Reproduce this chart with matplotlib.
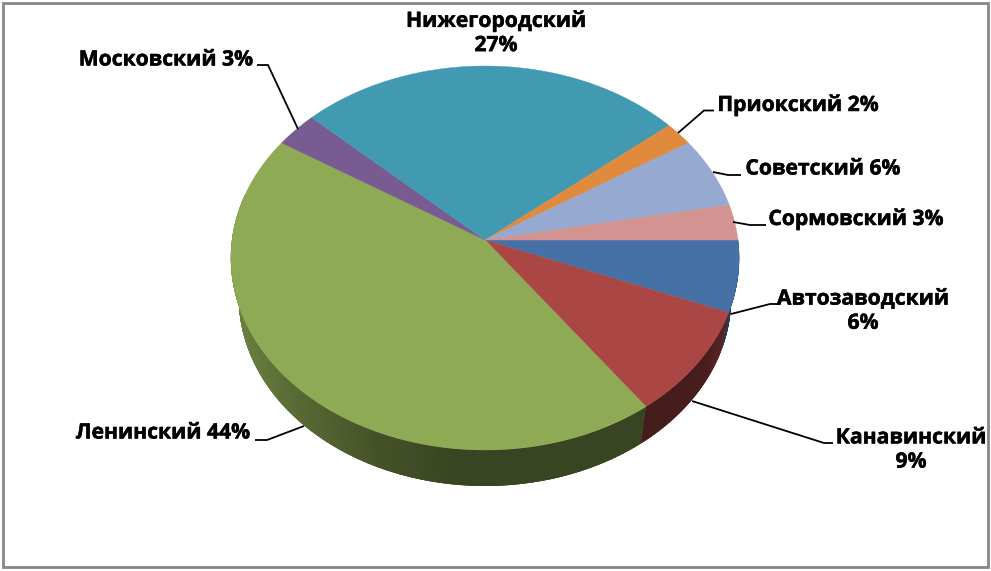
import numpy as np
import matplotlib
matplotlib.use("Agg")
import matplotlib.pyplot as plt
import matplotlib.patheffects as pe
from matplotlib.collections import PolyCollection
from matplotlib.patches import Rectangle, Polygon

names = ["Автозаводский", "Канавинский", "Ленинский", "Московский",
         "Нижегородский", "Приокский", "Советский", "Сормовский"]
values = [6, 9, 44, 3, 27, 2, 6, 3]
colors = ["#4571a7", "#aa4744", "#8eaa54", "#785b91",
          "#419ab2", "#e08a3e", "#96a9d0", "#d29391"]

label_xy = [(863, 311), (911, 450), (163, 433), (166, 60),
            (496, 33), (798, 105), (823, 169), (856, 219)]
label_sep = ["\n", "\n", " ", " ", "\n", " ", " ", " "]
leaders = [[(779, 304), (770, 304), (731, 314)],
           [(833, 443), (824, 443), (692, 401)],
           [(255, 440), (267, 440), (304, 426)],
           [(257, 65), (268, 65), (298, 129)],
           None,
           [(714, 110.5), (704, 110.5), (678, 133)],
           [(741, 175), (728, 175), (713, 172)],
           [(766, 225), (750, 225), (733, 222)]]

W, H = 991, 571
fig = plt.figure(figsize=(W / 100, H / 100), dpi=100, facecolor="white")
ax = fig.add_axes([0, 0, 1, 1])
ax.set_xlim(0, W)
ax.set_ylim(H, 0)
ax.axis("off")

ax.add_patch(Rectangle((3, 3), 985, 564, fill=False, ec="#868686", lw=2.0))

# perspective disc
CX, APEX_Y, A, B, K = 485.0, 240.0, 253.0, 190.3, 0.09375
CY1, RX1, RY1 = 258.0, 254.0, 192.0
CY2, RX2, RY2 = 298.0, 246.0, 188.0


def top(theta):
    u, v = np.cos(theta), np.sin(theta)
    d = 1 + K * v
    return CX + A * u / d, APEX_Y - B * v / d


def bottom(theta):
    x, y = top(theta)
    return CX + (x - CX) * RX2 / RX1, CY2 + (y - CY1) * RY2 / RY1


def shade(x):
    return np.interp(x, [238, 300, 380, 460, 640, 700, 735],
                     [0.76, 0.62, 0.48, 0.40, 0.40, 0.42, 0.62])


fr = np.cumsum([0] + values) / sum(values)
angles = -2 * np.pi * fr

# side wall
for i, c in enumerate(colors):
    a0, a1 = angles[i], angles[i + 1]
    lo, hi = max(a1, -np.pi * 1.08), min(a0, 0.08)
    if lo >= hi:
        continue
    n = max(2, int((hi - lo) * 60))
    ts = np.linspace(hi, lo, n + 1)
    base = np.array(matplotlib.colors.to_rgb(c))
    xt, yt = top(ts)
    xb, yb = bottom(ts)
    outline = Polygon(np.c_[np.r_[xt, xb[::-1]], np.r_[yt, yb[::-1]]], closed=True,
                      fc=tuple(base * 0.5), ec="none", zorder=2)
    ax.add_patch(outline)
    polys, fcs = [], []
    for j in range(n):
        polys.append([(xt[j], yt[j]), (xt[j + 1], yt[j + 1]),
                      (xb[j + 1], yb[j + 1]), (xb[j], yb[j])])
        fcs.append(tuple(base * shade((xb[j] + xb[j + 1]) / 2)))
    pc = PolyCollection(polys, facecolors=fcs, edgecolors=fcs, linewidths=1.5, zorder=2.1)
    ax.add_collection(pc)
    pc.set_clip_path(outline)

# top face
for i, c in enumerate(colors):
    ts = np.linspace(angles[i], angles[i + 1], 120)
    xs, ys = top(ts)
    ax.fill(np.r_[CX, xs], np.r_[APEX_Y, ys], color=c, lw=0.3, zorder=3)

for seg in leaders:
    if seg:
        ax.plot(*zip(*seg), color="black", lw=1.3, zorder=4,
                solid_joinstyle="miter", solid_capstyle="butt")

for name, v, (x, y), sep in zip(names, values, label_xy, label_sep):
    ax.text(x, y, f"{name}{sep}{v}%", ha="center", va="center",
            family="Open Sans", fontweight="bold", fontsize=15.2,
            linespacing=1.2, color="black", zorder=5,
            path_effects=[pe.withStroke(linewidth=0.35, foreground="black")])

fig.savefig("out.png", dpi=100, facecolor="white")
